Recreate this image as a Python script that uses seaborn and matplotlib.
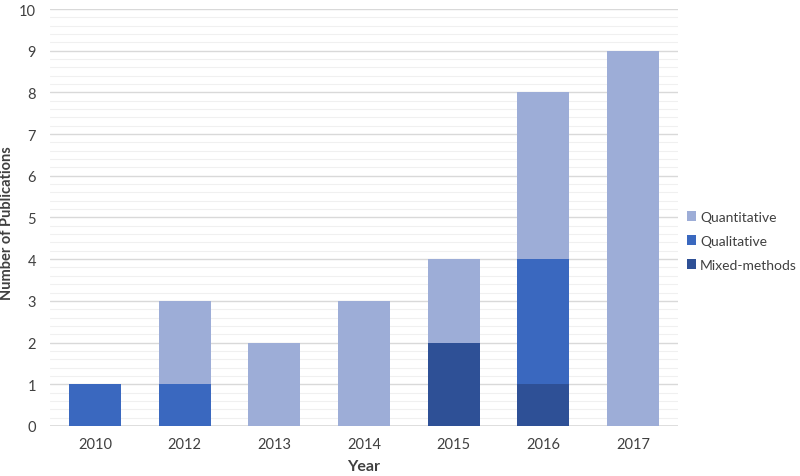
import matplotlib
matplotlib.use("Agg")
import matplotlib.pyplot as plt
import seaborn as sns
import numpy as np
from matplotlib.patches import Patch

years = ["2010", "2012", "2013", "2014", "2015", "2016", "2017"]
mixed = [0, 0, 0, 0, 2, 1, 0]
qualitative = [1, 1, 0, 0, 0, 3, 0]
quantitative = [0, 2, 2, 3, 2, 4, 9]
series_names = ["Quantitative", "Qualitative", "Mixed-methods"]
colors = {"Quantitative": "#9DADD7", "Qualitative": "#3A68BF", "Mixed-methods": "#2E5096"}

sns.set_style("white")
plt.rcParams['font.family'] = ['Lato', 'DejaVu Sans']

fig = plt.figure(figsize=(8, 4.77), dpi=100)
ax = fig.add_axes([0.0625, 0.105, 0.785, 0.874])

m = np.array(mixed, dtype=float)
q = np.array(qualitative, dtype=float)
qt = np.array(quantitative, dtype=float)

sns.barplot(x=years, y=m, color=colors["Mixed-methods"], width=0.58, ax=ax,
            saturation=1, zorder=3, linewidth=0)
sns.barplot(x=years, y=q, bottom=m, color=colors["Qualitative"], width=0.58, ax=ax,
            saturation=1, zorder=3, linewidth=0)
sns.barplot(x=years, y=qt, bottom=m + q, color=colors["Quantitative"], width=0.58, ax=ax,
            saturation=1, zorder=3, linewidth=0)

ax.set_ylim(0, 10)
ax.set_xlim(-0.5, len(years) - 0.5)
ax.set_yticks(range(0, 11))
ax.set_yticks(np.arange(0, 10.01, 0.2), minor=True)
ax.grid(axis='y', which='major', color='#D9D9D9', linewidth=1.0, zorder=0)
ax.grid(axis='y', which='minor', color='#F0F0F0', linewidth=0.8, zorder=0)
ax.set_axisbelow(True)
for s in ax.spines.values():
    s.set_visible(False)
ax.axhline(0, color='#D9D9D9', linewidth=1.2, zorder=2)
ax.tick_params(axis='both', which='both', length=0, labelsize=10.5, colors='#404040', pad=8)
ax.tick_params(axis='y', pad=10)
ax.set_xlabel("Year", fontsize=11.5, fontweight='bold', color='#404040', labelpad=6)
ax.set_ylabel("Number of Publications", fontsize=10.5, fontweight='bold', color='#404040')
ax.yaxis.set_label_coords(-0.058, 0.49)

handles = [Patch(facecolor=colors[n], edgecolor='none', label=n) for n in series_names]
leg = fig.legend(handles=handles, loc='center left', bbox_to_anchor=(0.848, 0.493),
                 frameon=False, fontsize=10, handlelength=0.7, handleheight=0.7,
                 handletextpad=0.25, labelspacing=0.85, borderaxespad=0.2,
                 labelcolor='#404040')

fig.savefig("out.png", dpi=100)
